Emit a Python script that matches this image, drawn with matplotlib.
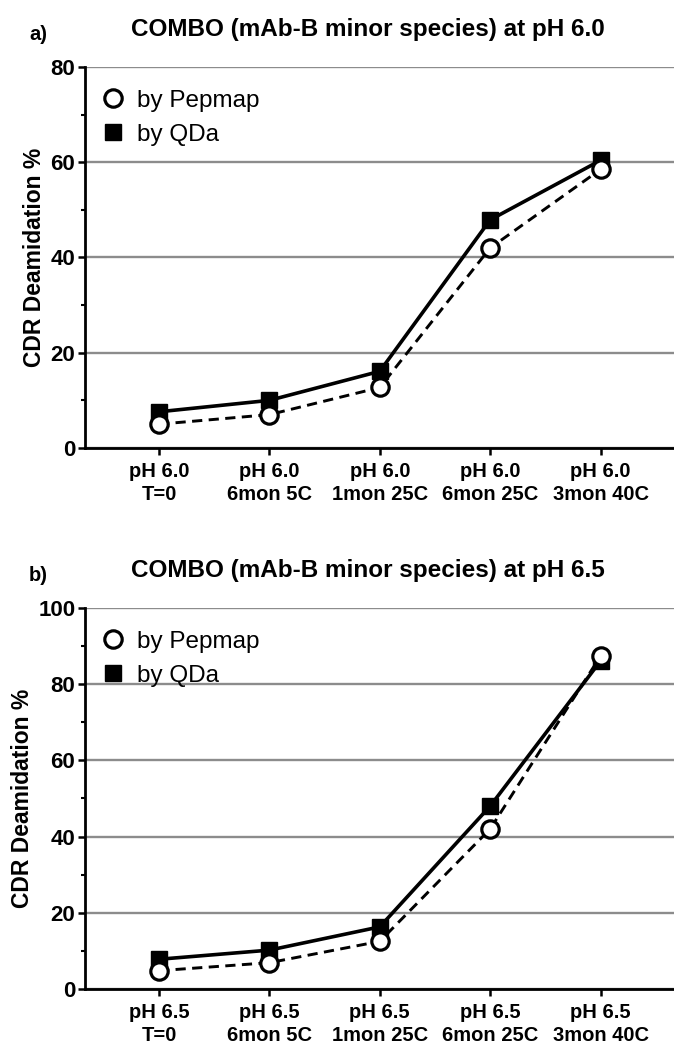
import matplotlib
matplotlib.use('Agg')
import matplotlib.pyplot as plt
from matplotlib.ticker import MultipleLocator

font = 'Liberation Sans'

# data
conds = ['T=0', '6mon 5C', '1mon 25C', '6mon 25C', '3mon 40C']
pepmap_60 = [5.0, 7.0, 12.7, 42.0, 58.5]
qda_60 = [7.6, 10.0, 16.1, 47.9, 60.4]
pepmap_65 = [4.8, 6.9, 12.5, 42.0, 87.4]
qda_65 = [7.8, 10.2, 16.3, 48.0, 86.1]

panels = [
    ('a)', 'pH 6.0', pepmap_60, qda_60, 80, 0.5709),
    ('b)', 'pH 6.5', pepmap_65, qda_65, 100, 0.0527),
]

fig = plt.figure(figsize=(6.74, 10.44), dpi=100)

for tag, ph, pep, qda, ymax, bot in panels:
    ax = fig.add_axes([85 / 674, bot, 589 / 674, 381 / 1044])
    x = list(range(len(conds)))
    ax.plot(x, qda, '-', color='black', lw=2.6, marker='s', ms=12,
            mfc='black', mec='black', zorder=3, label='by QDa')
    ax.plot(x, pep, '--', color='black', lw=2.1, dashes=(3.5, 2.2), marker='o', ms=12.5,
            mfc='white', mec='black', mew=2.3, zorder=4, label='by Pepmap')

    ax.set_xlim(-0.67, 4.665)
    ax.set_ylim(0, ymax)
    ax.yaxis.set_major_locator(MultipleLocator(20))
    ax.yaxis.set_minor_locator(MultipleLocator(10))
    ax.grid(axis='y', which='major', color='#8c8c8c', lw=1.7)
    ax.set_axisbelow(True)
    for s in ['top', 'right']:
        ax.spines[s].set_visible(False)
    for s in ['left', 'bottom']:
        ax.spines[s].set_linewidth(2.0)
    ax.tick_params(axis='y', which='major', direction='out', length=5, width=1.8, pad=2)
    ax.tick_params(axis='x', which='major', direction='out', length=5, width=1.8, pad=5)
    ax.tick_params(axis='y', which='minor', direction='out', length=3, width=1.5)
    ax.tick_params(axis='x', which='minor', length=0)

    ax.set_xticks(x)
    ax.set_xticklabels([ph + '\n' + c for c in conds], family=font,
                       weight='bold', fontsize=14.5, linespacing=1.25)
    for t in ax.get_yticklabels():
        t.set_family(font)
        t.set_weight('bold')
        t.set_fontsize(16)

    ax.set_ylabel('CDR Deamidation %', family=font, weight='bold', fontsize=16.5, labelpad=3)
    ax.set_title('COMBO (mAb-B minor species) at ' + ph, family=font, weight='bold',
                 fontsize=17.5, pad=22, x=0.48)
    ax.text(-0.095, 1.07, tag, transform=ax.transAxes, family=font,
            weight='bold', fontsize=14.5)

    h, l = ax.get_legend_handles_labels()
    leg = ax.legend(h[::-1], l[::-1], loc='upper left', frameon=False,
                    handlelength=0.9, handletextpad=0.55, labelspacing=0.5,
                    borderaxespad=0.3, bbox_to_anchor=(0.0, 0.985),
                    prop={'family': font, 'size': 17.5})
    for lh in leg.legend_handles:
        lh.set_linestyle('')

fig.savefig('out.png', dpi=100)
